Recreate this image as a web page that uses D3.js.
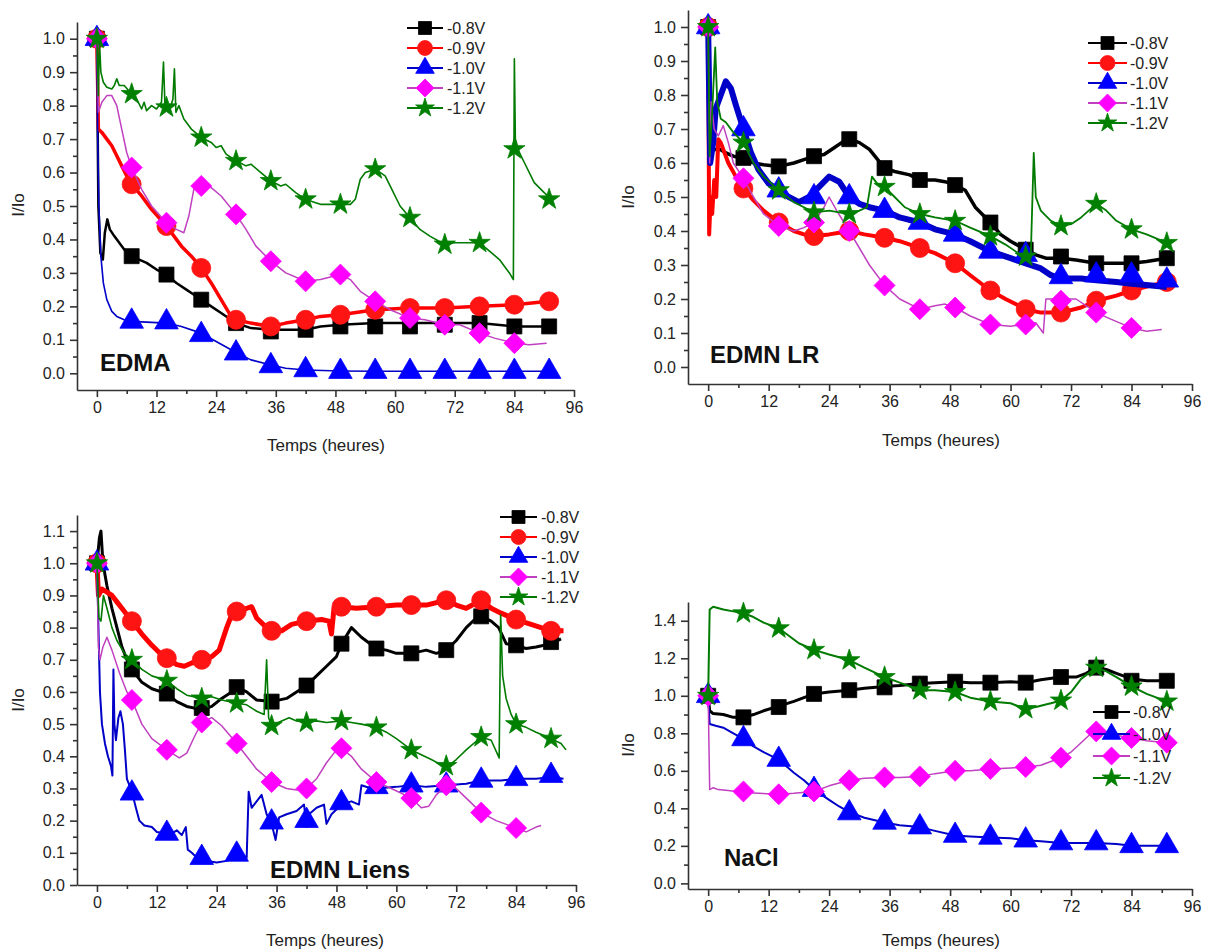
<!DOCTYPE html>
<html><head><meta charset="utf-8">
<script src="https://cdn.jsdelivr.net/npm/d3@7"></script>
<style>
body{margin:0;background:#fff}
svg{display:block}
text{font-family:"Liberation Sans",Arial,sans-serif}
</style>
</head><body>
<svg id="c" width="1212" height="952"></svg>
<script>
// ---------------- DATA ----------------
const markerHours = [0,7,14,21,28,35,42,49,56,63,70,77,84,91];
const xTicks = [0,12,24,36,48,60,72,84,96];
const xMinorTicks = [6,18,30,42,54,66,78,90];
const seriesNames = ["-0.8V","-0.9V","-1.0V","-1.1V","-1.2V"];
const panelTitles = ["EDMA","EDMN LR","EDMN Liens","NaCl"];
const xTitle = "Temps (heures)";
const yTitle = "I/Io";

// EDMA
const edma_08 = [[0,1.0],[0.3,0.5],[0.7,0.36],[1.2,0.34],[1.6,0.42],[2.1,0.46],[2.6,0.43],[3.5,0.41],[4.5,0.39],[5.5,0.37],[7,0.35],[8.5,0.34],[10,0.33],[12,0.31],[14,0.295],[16,0.27],[18,0.25],[20,0.23],[21,0.22],[23,0.2],[25,0.18],[27,0.16],[29,0.145],[31,0.135],[35,0.13],[38,0.13],[42,0.13],[45,0.14],[49,0.145],[56,0.15],[63,0.15],[70,0.15],[77,0.15],[84,0.14],[91,0.14]];
const edma_08_m = [1.0,0.35,0.295,0.22,0.15,0.125,0.13,0.14,0.14,0.14,0.145,0.15,0.14,0.14];
const edma_09 = [[0,1.0],[0.3,0.73],[1,0.72],[2,0.70],[3,0.68],[4,0.65],[5,0.62],[6,0.59],[7,0.565],[9,0.53],[11,0.49],[14,0.44],[17,0.38],[19,0.35],[21,0.315],[23,0.27],[25,0.22],[27,0.17],[28,0.16],[31,0.15],[35,0.14],[38,0.15],[42,0.16],[45,0.17],[49,0.175],[56,0.19],[63,0.195],[70,0.195],[77,0.2],[84,0.205],[91,0.215]];
const edma_09_m = [1.0,0.565,0.44,0.315,0.16,0.14,0.16,0.175,0.19,0.195,0.195,0.2,0.205,0.215];
const edma_10 = [[0,1.0],[0.15,0.72],[0.4,0.5],[0.8,0.35],[1.3,0.27],[2,0.22],[3,0.185],[4,0.17],[5.5,0.16],[7,0.155],[10,0.153],[14,0.15],[17,0.14],[21,0.12],[24,0.095],[28,0.062],[31,0.04],[35,0.025],[38,0.015],[42,0.01],[49,0.007],[56,0.006],[63,0.006],[70,0.006],[77,0.006],[84,0.006],[91,0.006]];
const edma_10_m = [1.0,0.155,0.153,0.115,0.06,0.022,0.01,0.005,0.005,0.005,0.005,0.005,0.005,0.005];
const edma_11 = [[0,1.0],[0.3,0.78],[1,0.81],[2,0.83],[3,0.83],[4,0.80],[5,0.73],[6,0.66],[7,0.615],[9,0.55],[11,0.5],[14,0.45],[16,0.43],[17.5,0.42],[18.5,0.47],[19.5,0.55],[21,0.56],[23,0.555],[25,0.53],[28,0.475],[30,0.43],[32,0.38],[35,0.335],[38,0.3],[42,0.275],[45,0.28],[49,0.295],[51,0.28],[53,0.245],[56,0.215],[59,0.19],[63,0.165],[66,0.16],[70,0.145],[73,0.145],[77,0.12],[80,0.105],[84,0.09],[87,0.085],[90.5,0.09]];
const edma_11_m = [1.0,0.615,0.45,0.56,0.475,0.335,0.275,0.295,0.215,0.165,0.145,0.12,0.09,null];
const edma_12 = [[0,1.0],[0.3,0.83],[0.5,1.0],[0.8,0.9],[1.3,0.87],[2,0.855],[3,0.85],[3.5,0.86],[4,0.88],[4.5,0.86],[5.5,0.86],[7,0.835],[8,0.82],[9,0.79],[9.5,0.81],[10,0.785],[11,0.8],[12,0.79],[13,0.81],[13.4,0.93],[13.7,0.8],[14.5,0.78],[15.3,0.82],[15.6,0.91],[15.9,0.78],[16.5,0.8],[17.5,0.76],[19,0.73],[21,0.705],[23,0.69],[24,0.675],[25,0.68],[26,0.655],[28,0.635],[30,0.62],[31,0.625],[33,0.6],[35,0.575],[37,0.56],[38,0.565],[40,0.54],[42,0.52],[44,0.51],[45,0.505],[49,0.505],[51,0.505],[52,0.52],[53,0.58],[54,0.6],[56,0.61],[58,0.59],[59,0.56],[61,0.5],[63,0.465],[65,0.43],[67,0.41],[70,0.385],[72,0.39],[74,0.39],[77,0.39],[79,0.365],[81,0.34],[83,0.3],[83.8,0.28],[84,0.94],[84.2,0.7],[85,0.66],[86,0.63],[88,0.57],[90,0.54],[91.5,0.52]];
const edma_12_m = [1.0,0.835,0.795,0.705,0.635,0.575,0.52,0.505,0.61,0.465,0.385,0.39,0.67,0.52];

// EDMN LR
const lr_08 = [[0,1.0],[0.2,0.64],[2.4,0.64],[3.5,0.63],[5,0.62],[7,0.615],[9,0.6],[11,0.595],[14,0.59],[17,0.6],[19,0.61],[21,0.62],[23,0.625],[25,0.645],[27,0.665],[28,0.67],[30,0.66],[32,0.64],[35,0.585],[37,0.575],[40,0.565],[42,0.55],[45,0.55],[47,0.545],[49,0.535],[51,0.52],[53,0.47],[56,0.425],[58,0.39],[60,0.37],[63,0.345],[65,0.33],[67,0.32],[70,0.32],[73,0.315],[77,0.305],[81,0.305],[84,0.305],[87,0.31],[91,0.32]];
const lr_08_m = [1.0,0.615,0.59,0.62,0.67,0.585,0.55,0.535,0.425,0.345,0.325,0.305,0.305,0.32];
const lr_09 = [[0,1.0],[0.2,0.39],[0.5,0.5],[0.8,0.45],[1.2,0.55],[1.6,0.5],[2,0.67],[2.5,0.66],[4,0.6],[5.5,0.56],[7,0.525],[9,0.49],[11,0.46],[14,0.425],[17,0.4],[19,0.39],[21,0.385],[24,0.39],[26,0.395],[28,0.4],[31,0.39],[35,0.38],[38,0.37],[42,0.35],[45,0.335],[49,0.305],[52,0.27],[56,0.225],[59,0.2],[63,0.17],[66,0.16],[70,0.16],[74,0.175],[77,0.195],[81,0.21],[84,0.225],[88,0.24],[91,0.25]];
const lr_09_m = [1.0,0.525,0.425,0.385,0.40,0.38,0.35,0.305,0.225,0.17,0.16,0.195,0.225,0.25];
const lr_10 = [[0,1.0],[0.4,0.6],[1,0.66],[1.5,0.76],[2.5,0.8],[3.5,0.84],[4.5,0.82],[5.5,0.77],[7,0.7],[8.5,0.63],[10,0.58],[12,0.54],[14,0.52],[16,0.5],[18,0.485],[20,0.5],[22,0.53],[24,0.56],[26,0.545],[28,0.5],[30,0.48],[32,0.47],[35,0.46],[38,0.44],[42,0.425],[45,0.405],[49,0.39],[52,0.37],[56,0.34],[60,0.32],[63,0.305],[66,0.29],[68,0.27],[70,0.26],[74,0.26],[77,0.255],[81,0.25],[84,0.245],[88,0.24],[91,0.235]];
const lr_10_m = [1.0,0.7,0.52,0.5,0.5,0.46,0.425,0.39,0.34,0.33,0.265,0.27,0.27,0.255];
const lr_11 = [[0,1.0],[0.3,0.6],[0.6,0.78],[1.2,0.7],[2,0.68],[3,0.71],[4,0.66],[5,0.6],[7,0.555],[9,0.5],[11,0.45],[14,0.415],[17,0.4],[19,0.41],[21,0.425],[23,0.47],[24,0.5],[25.5,0.46],[28,0.4],[30,0.35],[32,0.3],[35,0.24],[38,0.2],[42,0.17],[45,0.18],[47,0.185],[49,0.175],[52,0.15],[56,0.125],[60,0.12],[63,0.125],[65,0.13],[66.5,0.1],[67,0.2],[70,0.2],[73,0.2],[77,0.16],[80,0.14],[84,0.115],[87,0.105],[90,0.11]];
const lr_11_m = [1.0,0.555,0.415,0.425,0.4,0.24,0.17,0.175,0.125,0.125,0.195,0.16,0.115,null];
const lr_12 = [[0,1.0],[0.3,0.62],[0.8,0.75],[1.4,0.94],[1.8,0.78],[2.5,0.73],[3.5,0.72],[5,0.69],[7,0.66],[9,0.6],[11,0.56],[14,0.52],[17,0.485],[19,0.47],[21,0.455],[24,0.46],[26,0.455],[28,0.45],[30,0.46],[31.5,0.47],[32.5,0.56],[33.5,0.54],[35,0.53],[37,0.5],[39,0.47],[42,0.45],[45,0.44],[49,0.43],[52,0.41],[56,0.385],[59,0.36],[62,0.33],[64,0.32],[64.6,0.63],[65,0.5],[66,0.46],[68,0.43],[70,0.415],[72,0.42],[74,0.44],[77,0.48],[79,0.46],[81,0.43],[84,0.405],[87,0.39],[91,0.365]];
const lr_12_m = [1.0,0.66,0.52,0.455,0.45,0.53,0.45,0.43,0.385,0.325,0.415,0.48,0.405,0.365];

// EDMN Liens
const li_08 = [[0,1.0],[0.5,1.08],[0.8,1.1],[1.2,1.0],[2,0.93],[3,0.86],[4,0.8],[5,0.74],[6,0.7],[7,0.67],[9,0.63],[11,0.61],[14,0.595],[16,0.57],[18,0.555],[21,0.545],[23,0.555],[25,0.58],[27,0.6],[28,0.615],[30,0.6],[32,0.575],[35,0.57],[38,0.58],[40,0.6],[42,0.62],[44,0.65],[46,0.68],[48,0.71],[49,0.75],[51,0.8],[53,0.77],[56,0.735],[58,0.73],[60,0.72],[63,0.72],[66,0.73],[68,0.72],[70,0.73],[72,0.76],[74,0.8],[76,0.83],[77,0.835],[79,0.82],[80.5,0.8],[82,0.75],[84,0.745],[86,0.735],[88,0.74],[91,0.75],[93,0.765]];
const li_08_m = [1.0,0.67,0.595,0.55,0.615,0.57,0.62,0.75,0.735,0.72,0.73,0.835,0.745,0.755];
const li_09 = [[0,1.0],[0.3,0.9],[1,0.92],[2,0.91],[3,0.9],[4,0.88],[5.5,0.85],[7,0.82],[9,0.78],[11,0.745],[13,0.715],[14,0.705],[16,0.685],[17.5,0.68],[19,0.69],[21,0.7],[23,0.71],[24.5,0.73],[26,0.8],[27,0.84],[28,0.85],[30,0.86],[31,0.865],[32,0.83],[34,0.8],[35,0.79],[37,0.79],[39,0.81],[42,0.82],[45,0.825],[46.5,0.82],[47,0.78],[47.5,0.86],[49,0.865],[52,0.86],[56,0.865],[60,0.87],[63,0.87],[66,0.87],[70,0.885],[72,0.87],[74,0.86],[77,0.885],[79,0.86],[81,0.845],[84,0.825],[87,0.81],[89,0.8],[91,0.79],[93.5,0.79]];
const li_09_m = [1.0,0.82,0.705,0.70,0.85,0.79,0.82,0.865,0.865,0.87,0.885,0.885,0.825,0.79];
const li_10 = [[0,1.0],[0.3,0.8],[0.6,0.6],[1,0.5],[1.6,0.44],[2.2,0.4],[2.8,0.37],[3.1,0.34],[3.3,0.67],[3.5,0.5],[3.8,0.45],[4.3,0.52],[4.7,0.54],[5.2,0.5],[5.6,0.42],[6,0.33],[7,0.29],[7.8,0.24],[8.5,0.2],[9.5,0.185],[11,0.18],[12,0.165],[14,0.16],[15,0.16],[16,0.17],[17,0.155],[17.8,0.18],[18.2,0.11],[19,0.1],[20,0.085],[22,0.075],[24,0.07],[26,0.075],[28,0.085],[29.5,0.09],[30,0.085],[30.4,0.29],[31,0.24],[32,0.26],[33,0.28],[34,0.22],[35,0.19],[35.8,0.14],[36.5,0.21],[38,0.22],[40,0.23],[41.5,0.25],[42,0.18],[42.5,0.22],[44,0.24],[45.5,0.25],[46,0.19],[47,0.22],[49,0.25],[51,0.26],[52.5,0.25],[53,0.31],[55,0.3],[56,0.3],[60,0.305],[63,0.31],[66,0.305],[70,0.31],[74,0.315],[77,0.325],[81,0.325],[84,0.33],[88,0.33],[91,0.335],[93.5,0.33]];
const li_10_m = [1.0,0.285,0.16,0.085,0.095,0.195,0.2,0.255,0.305,0.31,0.31,0.325,0.33,0.34];
const li_11 = [[0,1.0],[0.3,0.74],[0.6,0.7],[1.2,0.74],[2,0.77],[3,0.73],[4.5,0.66],[6,0.6],[7,0.575],[9,0.5],[11,0.455],[14,0.42],[16.5,0.395],[18,0.41],[19.5,0.46],[21,0.505],[23,0.52],[25,0.495],[28,0.44],[30,0.4],[32,0.36],[35,0.32],[38,0.3],[40,0.295],[42,0.3],[44,0.33],[46,0.38],[48,0.42],[49,0.425],[51,0.4],[53,0.36],[56,0.32],[59,0.3],[63,0.27],[65,0.24],[66.5,0.245],[68,0.28],[70,0.31],[72,0.3],[74,0.27],[77,0.225],[80,0.2],[84,0.177],[86,0.165],[88,0.18],[89,0.185]];
const li_11_m = [1.0,0.575,0.42,0.505,0.44,0.32,0.3,0.425,0.32,0.27,0.31,0.225,0.177,null];
const li_12 = [[0,1.0],[0.4,0.83],[0.8,0.82],[1.3,0.9],[2,0.86],[3,0.8],[4,0.76],[5.5,0.72],[7,0.7],[9,0.67],[11,0.65],[14,0.635],[16,0.61],[18,0.59],[21,0.58],[23,0.585],[25,0.575],[28,0.565],[30,0.56],[32,0.54],[33.5,0.53],[34,0.7],[34.4,0.52],[35,0.495],[37,0.51],[38.5,0.52],[40,0.51],[42,0.505],[44,0.51],[46,0.505],[49,0.51],[51,0.505],[53,0.5],[56,0.49],[58,0.475],[60,0.455],[63,0.42],[65,0.405],[67,0.39],[70,0.365],[72,0.39],[74,0.42],[77,0.46],[79,0.45],[80.6,0.395],[80.9,0.84],[81.3,0.65],[82,0.58],[83,0.53],[84,0.5],[86,0.49],[88,0.475],[91,0.455],[93,0.44],[94,0.42]];
const li_12_m = [1.0,0.70,0.635,0.58,0.565,0.495,0.505,0.51,0.49,0.42,0.37,0.46,0.50,0.455];

// NaCl
const na_08 = [[0,1.0],[0.3,0.92],[1,0.905],[3,0.9],[5,0.885],[7,0.885],[9,0.9],[11,0.92],[14,0.945],[17,0.97],[19,0.99],[21,1.01],[24,1.02],[28,1.03],[31,1.04],[35,1.05],[38,1.055],[42,1.065],[45,1.07],[49,1.075],[52,1.07],[56,1.07],[60,1.075],[63,1.07],[66,1.085],[70,1.1],[73,1.1],[75,1.12],[77,1.15],[79,1.14],[81,1.12],[84,1.09],[87,1.08],[91,1.08]];
const na_08_m = [1.0,0.885,0.94,1.01,1.03,1.045,1.065,1.075,1.07,1.07,1.1,1.15,1.08,1.08];
const na_10 = [[0,1.0],[0.3,0.85],[1.5,0.84],[3,0.83],[5,0.8],[7,0.77],[9,0.73],[11,0.7],[14,0.66],[17,0.59],[19,0.55],[21,0.5],[24,0.445],[26,0.41],[28,0.38],[31,0.35],[35,0.325],[38,0.31],[42,0.3],[45,0.28],[49,0.255],[52,0.25],[56,0.245],[60,0.24],[63,0.23],[66,0.225],[70,0.215],[74,0.215],[77,0.215],[81,0.21],[84,0.2],[88,0.2],[91,0.2]];
const na_10_m = [1.0,0.77,0.66,0.5,0.375,0.325,0.3,0.255,0.245,0.23,0.215,0.215,0.2,0.2];
const na_11 = [[0,1.0],[0.3,0.5],[1,0.51],[2,0.5],[4,0.495],[7,0.485],[10,0.48],[14,0.475],[17,0.48],[21,0.49],[24,0.52],[26,0.535],[28,0.55],[31,0.56],[35,0.565],[38,0.565],[42,0.57],[45,0.585],[49,0.6],[52,0.6],[56,0.61],[60,0.615],[63,0.62],[66,0.63],[68,0.65],[70,0.67],[72,0.7],[74,0.75],[76,0.8],[77,0.81],[79,0.8],[81,0.79],[84,0.775],[87,0.76],[91,0.75]];
const na_11_m = [1.0,0.49,0.475,0.49,0.55,0.565,0.57,0.6,0.61,0.62,0.67,0.81,0.775,0.75];
const na_12 = [[0,1.0],[0.3,1.46],[1,1.475],[3,1.46],[5,1.45],[7,1.44],[9,1.42],[11,1.39],[14,1.36],[16,1.32],[18,1.28],[21,1.245],[24,1.22],[26,1.205],[28,1.19],[31,1.15],[35,1.1],[38,1.07],[42,1.03],[45,1.03],[49,1.02],[52,0.99],[56,0.97],[60,0.96],[63,0.93],[65,0.94],[68,0.96],[70,0.975],[72,1.02],[74,1.09],[77,1.15],[79,1.13],[81,1.1],[84,1.05],[87,1.01],[89,0.99],[91,0.97]];
const na_12_m = [1.0,1.44,1.36,1.245,1.19,1.1,1.03,1.02,0.97,0.93,0.975,1.15,1.05,0.97];

// ---------------- STYLE ----------------
const styles = [
  {marker:"#000000", line:"#000000", shape:"square"},
  {marker:"#ff1414", line:"#ff0000", shape:"circle"},
  {marker:"#0000ff", line:"#0000c8", shape:"triangle"},
  {marker:"#ff00ff", line:"#c040c0", shape:"diamond"},
  {marker:"#008000", line:"#007a00", shape:"star"}
];

const panels = [
  {title:panelTitles[0], x:[77,574], yDom:[-0.05,1.05], y:[390,22],
   yTicks:d3.range(0,11).map(i=>i/10), yMinor:d3.range(0,10).map(i=>i/10+0.05), fmt:".1f",
   series:[0,1,2,3,4], lines:[edma_08,edma_09,edma_10,edma_11,edma_12],
   marks:[edma_08_m,edma_09_m,edma_10_m,edma_11_m,edma_12_m], widths:[2.5,3.5,1.6,1.5,1.6],
   legend:{x1:407,x2:443,tx:447,y0:28,dy:20}, label:{x:100,y:371},
   xt:{x:326,y:451}, yt:{x:24,y:205}},
  {title:panelTitles[1], x:[688,1192], yDom:[-0.05,1.05], y:[384,10],
   yTicks:d3.range(0,11).map(i=>i/10), yMinor:d3.range(0,10).map(i=>i/10+0.05), fmt:".1f",
   series:[0,1,2,3,4], lines:[lr_08,lr_09,lr_10,lr_11,lr_12],
   marks:[lr_08_m,lr_09_m,lr_10_m,lr_11_m,lr_12_m], widths:[3.5,4,6,1.5,1.8],
   legend:{x1:1088,x2:1127,tx:1130,y0:43,dy:20}, label:{x:710,y:363},
   xt:{x:941,y:446}, yt:{x:634,y:197}},
  {title:panelTitles[2], x:[77,576], yDom:[0,1.15], y:[885,515],
   yTicks:d3.range(0,12).map(i=>i/10), yMinor:d3.range(0,11).map(i=>i/10+0.05), fmt:".1f",
   series:[0,1,2,3,4], lines:[li_08,li_09,li_10,li_11,li_12],
   marks:[li_08_m,li_09_m,li_10_m,li_11_m,li_12_m], widths:[3,5,2,1.5,1.6],
   legend:{x1:500,x2:537,tx:541,y0:517,dy:20}, label:{x:270,y:878},
   xt:{x:325,y:946}, yt:{x:24,y:700}},
  {title:panelTitles[3], x:[688,1192], yDom:[-0.03,1.5], y:[889,602],
   yTicks:d3.range(0,8).map(i=>i/5), yMinor:d3.range(0,7).map(i=>i/5+0.1), fmt:".1f",
   series:[0,2,3,4], lines:[na_08,na_10,na_11,na_12],
   marks:[na_08_m,na_10_m,na_11_m,na_12_m], widths:[3,2,1.5,2],
   legend:{x1:1093,x2:1130,tx:1133,y0:712,dy:22}, label:{x:724,y:866},
   xt:{x:941,y:946}, yt:{x:634,y:745}}
];

// ---------------- DRAW ----------------
const svg = d3.select("#c");

function symPath(shape, big){
  if(shape==="square"){ const s = big?15:13; return d3.symbol(d3.symbolSquare, s*s)(); }
  if(shape==="circle"){ const r = big?9.5:7.5; return d3.symbol(d3.symbolCircle, Math.PI*r*r)(); }
  if(shape==="triangle"){ return d3.symbol(d3.symbolTriangle, big?240:150)(); }
  if(shape==="star"){ return d3.symbol(d3.symbolStar, big?140:110)(); }
  if(shape==="diamond"){ const r = big?10.5:9; return `M0,${-r}L${r},0L0,${r}L${-r},0Z`; }
}

panels.forEach(p=>{
  const g = svg.append("g");
  const x = d3.scaleLinear().domain([-4,96]).range(p.x);
  const y = d3.scaleLinear().domain(p.yDom).range(p.y);
  const x0 = p.x[0], yb = p.y[0];

  const ax = g.append("g").attr("transform",`translate(0,${yb})`)
    .call(d3.axisBottom(x).tickValues(xTicks).tickSize(7).tickSizeOuter(0).tickPadding(5));
  const axm = g.append("g").attr("transform",`translate(0,${yb})`)
    .call(d3.axisBottom(x).tickValues(xMinorTicks).tickSize(4).tickFormat(""));
  axm.select(".domain").remove();
  const ay = g.append("g").attr("transform",`translate(${x0},0)`)
    .call(d3.axisLeft(y).tickValues(p.yTicks).tickSize(7).tickSizeOuter(0).tickPadding(5).tickFormat(d3.format(p.fmt)));
  const aym = g.append("g").attr("transform",`translate(${x0},0)`)
    .call(d3.axisLeft(y).tickValues(p.yMinor).tickSize(4).tickFormat(""));
  aym.select(".domain").remove();
  [ax,axm,ay,aym].forEach(a=>{
    a.selectAll("path,line").attr("stroke","#333").attr("stroke-width",1.6);
    a.selectAll("text").attr("font-size",16).attr("fill","#222")
      .attr("font-family","'Liberation Sans',Arial,sans-serif");
  });

  const line = d3.line().x(d=>x(d[0])).y(d=>y(d[1]));
  p.series.forEach((si,k)=>{
    const st = styles[si];
    g.append("path").datum(p.lines[k]).attr("d",line)
      .attr("fill","none").attr("stroke",st.line).attr("stroke-width",p.widths[k])
      .attr("stroke-linejoin","round");
    const pts = markerHours.map((h,i)=>[h,p.marks[k][i]]).filter(d=>d[1]!==null);
    g.selectAll(null).data(pts).enter().append("path")
      .attr("d",symPath(st.shape,true))
      .attr("transform",d=>`translate(${x(d[0])},${y(d[1])})`)
      .attr("fill",st.marker).attr("stroke",st.marker).attr("stroke-width",0.8);
  });

  const L = p.legend;
  p.series.forEach((si,k)=>{
    const st = styles[si];
    const yy = L.y0 + k*L.dy;
    g.append("line").attr("x1",L.x1).attr("x2",L.x2).attr("y1",yy).attr("y2",yy)
      .attr("stroke",st.line).attr("stroke-width",2);
    g.append("path").attr("d",symPath(st.shape,false))
      .attr("transform",`translate(${(L.x1+L.x2)/2},${yy})`)
      .attr("fill",st.marker).attr("stroke",st.marker).attr("stroke-width",0.8);
    g.append("text").attr("x",L.tx).attr("y",yy+6).attr("font-size",16).attr("fill","#222")
      .text(seriesNames[si]);
  });

  g.append("text").attr("x",p.label.x).attr("y",p.label.y)
    .attr("font-family","Lato,'Open Sans',sans-serif").attr("font-weight","bold")
    .attr("font-size",24).attr("fill","#111").text(p.title);
  g.append("text").attr("x",p.xt.x).attr("y",p.xt.y).attr("text-anchor","middle")
    .attr("font-size",17).attr("fill","#222").text(xTitle);
  g.append("text").attr("transform",`translate(${p.yt.x},${p.yt.y}) rotate(-90)`)
    .attr("text-anchor","middle").attr("font-size",17).attr("fill","#222").text(yTitle);
});
</script>
</body></html>
